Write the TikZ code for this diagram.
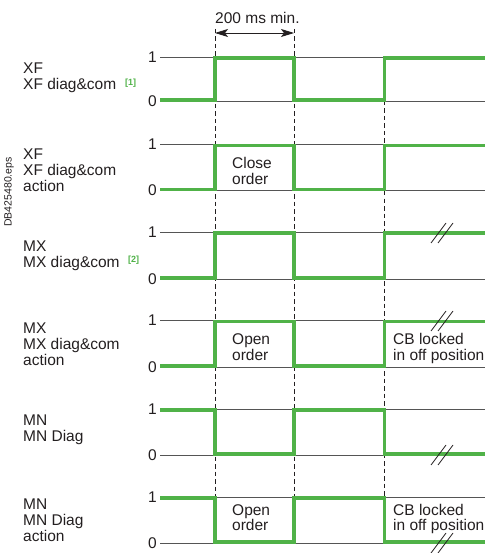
\documentclass[tikz,border=0pt]{standalone}
\usepackage{fontspec}
\setmainfont{Liberation Sans}
\usetikzlibrary{arrows.meta}
\definecolor{wgreen}{RGB}{80,178,72}
\definecolor{txt}{RGB}{35,31,32}
\definecolor{axisgrey}{RGB}{85,85,85}
\begin{document}
\begin{tikzpicture}[x=1pt,y=-1pt,
  lbl/.style={anchor=base west, inner sep=0pt, font=\fontsize{15.5}{16}\selectfont, text=txt},
  lvl/.style={anchor=east, inner sep=0pt, font=\fontsize{15.5}{16}\selectfont, text=txt},
  axisline/.style={draw=axisgrey, line width=0.8pt},
  sig/.style={draw=wgreen, line width=3.5pt, line join=miter},
  guide/.style={draw=txt, line width=0.8pt, dash pattern=on 4.5pt off 3pt},
  brk/.style={draw=txt, line width=0.8pt},
  refmark/.style={anchor=base west, text=wgreen, font=\fontsize{9}{9}\selectfont\bfseries, inner sep=0pt}
]
\useasboundingbox (0,0) rectangle (487,553);
\clip (0,0) rectangle (487,553);

% level lines and 1/0 labels
\foreach \h/\l [count=\i] in {57/101,144.5/190.5,232/279,320.5/367,409/455,497/543}{
  \draw[axisline] (160,\h) -- (485,\h);
  \draw[axisline] (160,\l) -- (485,\l);
  \node[lvl] (one\i) at (157,\h) {1};
  \node[lvl] (zero\i) at (157,\l) {0};
}

% timing guides
\coordinate (g1t) at (215,29);   \coordinate (g1b) at (215,543);
\coordinate (g2t) at (294,29);   \coordinate (g2b) at (294,543);
\coordinate (g3t) at (384.5,101); \coordinate (g3b) at (384.5,543);
\draw[guide] (g1t) -- (g1b);
\draw[guide] (g2t) -- (g2b);
\draw[guide] (g3t) -- (g3b);

% duration arrow
\coordinate (a1) at (215,33);
\coordinate (a2) at (294,33);
\draw[draw=txt, line width=0.8pt, {Stealth[length=13pt,width=8pt,inset=3pt]}-{Stealth[length=13pt,width=8pt,inset=3pt]}] (a1) -- (a2);
\node[lbl] (dur) at (215,23.3) {200 ms min.};

% signals: low-high-low-high
\foreach \h/\l in {57/101,144.5/190.5,232/279,320.5/367}{
  \draw[sig] (160,\l-1.2) -| (215,\h+1.2) -| (294,\l-1.2) -| (384.5,\h+1.2) -- (485,\h+1.2);
}
% signals: high-low-high-low
\foreach \h/\l in {409/455,497/543}{
  \draw[sig] (160,\h+1.2) -| (215,\l-1.2) -| (294,\h+1.2) -| (384.5,\l-1.2) -- (485,\l-1.2);
}

% break marks
\foreach \cy in {233,321,455,543}{
  \draw[brk] (431,\cy+10) -- (446,\cy-10);
  \draw[brk] (438,\cy+10) -- (453,\cy-10);
}

% row labels
\node[lbl] (r1a) at (23,74) {XF};
\node[lbl] (r1b) at (23,89.5) {XF diag\&com};
\node[refmark] (n1) at (125,85.5) {[1]};

\node[lbl] (r2a) at (23,159.3) {XF};
\node[lbl] (r2b) at (23,175.5) {XF diag\&com};
\node[lbl] (r2c) at (23,191.5) {action};

\node[lbl] (r3a) at (23,251.7) {MX};
\node[lbl] (r3b) at (23,267.3) {MX diag\&com};
\node[refmark] (n2) at (128,262.5) {[2]};

\node[lbl] (r4a) at (23,333.3) {MX};
\node[lbl] (r4b) at (23,349) {MX diag\&com};
\node[lbl] (r4c) at (23,365) {action};

\node[lbl] (r5a) at (23,425.7) {MN};
\node[lbl] (r5b) at (23,441.7) {MN Diag};

\node[lbl] (r6a) at (23,509) {MN};
\node[lbl] (r6b) at (23,525.3) {MN Diag};
\node[lbl] (r6c) at (23,541.5) {action};

% texts inside pulses
\node[lbl] (c1) at (232,168.3) {Close};
\node[lbl] (c2) at (232,184.3) {order};
\node[lbl] (o1) at (232,344) {Open};
\node[lbl] (o2) at (232,360) {order};
\node[lbl] (b1) at (393,344) {CB locked};
\node[lbl] (b2) at (393,360) {in off position};
\node[lbl] (o3) at (232,515) {Open};
\node[lbl] (o4) at (232,530.7) {order};
\node[lbl] (b3) at (393,515) {CB locked};
\node[lbl] (b4) at (393,530.7) {in off position};

% file reference
\node[rotate=90, inner sep=0pt, text=txt, font=\fontsize{10.5}{10.5}\selectfont] (file) at (9,192) {DB425480.eps};
\end{tikzpicture}
\end{document}
